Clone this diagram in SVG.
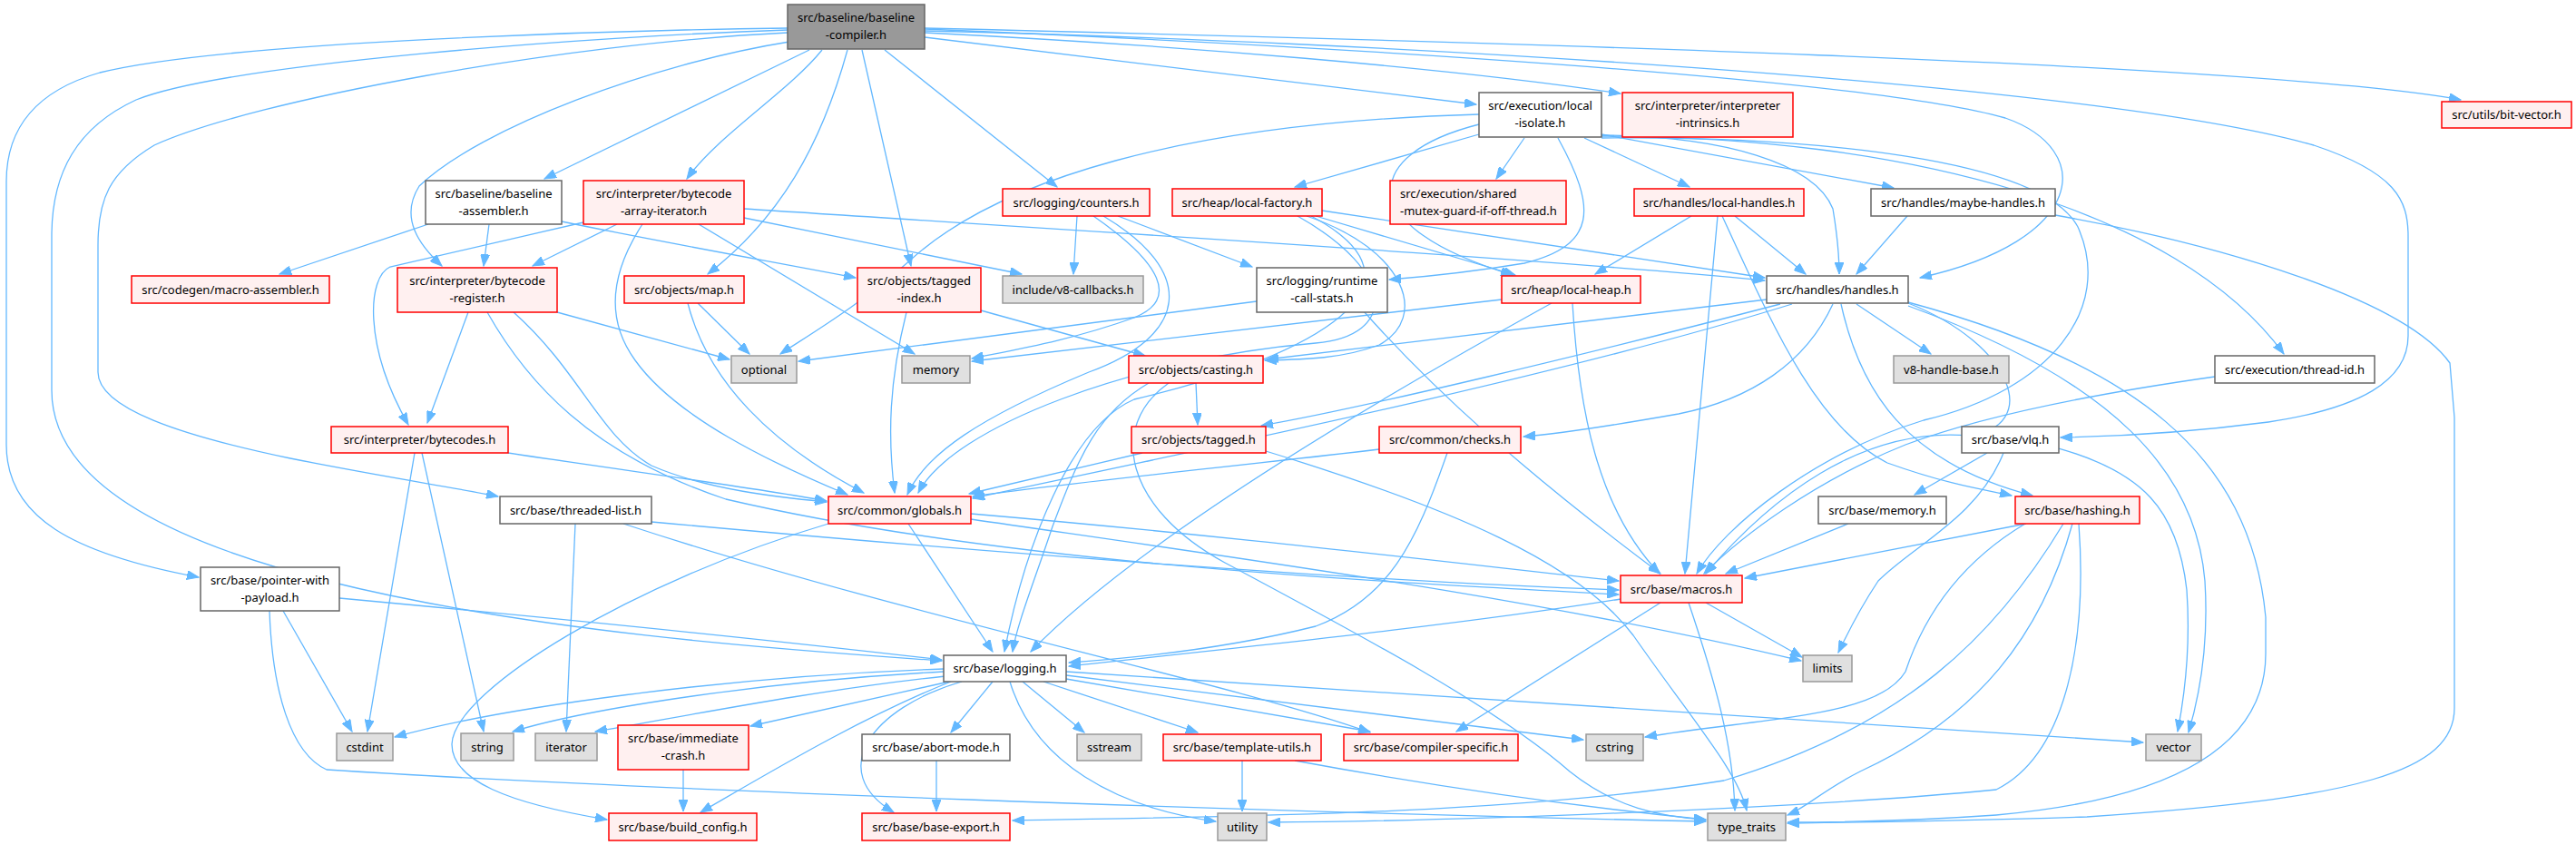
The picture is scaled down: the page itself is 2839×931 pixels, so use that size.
<svg xmlns="http://www.w3.org/2000/svg" width="2839" height="931" viewBox="0 0 2839 931">
<style>
rect{stroke-width:1.5}
.w rect{fill:#fff;stroke:#666}
.r rect{fill:#fff0f0;stroke:#f00}
.g rect{fill:#e0e0e0;stroke:#999}
.k rect{fill:#999;stroke:#666}
text{font-family:"Noto Sans","DejaVu Sans",sans-serif;font-size:13px;fill:#000;text-anchor:middle}
#edges path{fill:none;stroke:#63b8ff;stroke-width:1.3;marker-end:url(#a)}
</style>
<defs>
<marker id="a" markerWidth="14" markerHeight="10" refX="13" refY="5" orient="auto" markerUnits="userSpaceOnUse"><path d="M0,0 L13,5 L0,10 z" fill="#63b8ff" stroke="#63b8ff"/></marker>
</defs>
<rect width="2839" height="931" fill="#fff"/>
<g id="edges">
<path d="M868,31 C700,33 250,45 110,80 C40,100 7,140 7,200 L7,490 C7,570 80,610 219,636"/>
<path d="M868,33 C650,40 250,70 150,110 C85,140 57,190 57,260 L57,430 C57,520 160,590 360,640 C600,700 900,718 1038,728"/>
<path d="M868,36 C620,48 280,110 170,160 C120,190 108,220 108,270 L108,410 C108,450 200,480 320,505 C420,525 500,537 549,547"/>
<path d="M870,46 C720,70 530,140 462,205 C440,240 462,270 487,293"/>
<path d="M892,55 L600,197"/>
<path d="M906,55 C870,100 790,150 757,197"/>
<path d="M934,55 C905,160 860,240 780,302"/>
<path d="M950,55 L1004,293"/>
<path d="M975,55 L1165,206"/>
<path d="M1019,41 L1627,115"/>
<path d="M1019,36 C1300,50 1600,75 1786,103"/>
<path d="M1019,32 C1450,50 2050,85 2210,130 C2310,165 2300,265 2116,306"/>
<path d="M1019,34 C1500,45 2300,90 2550,160 C2640,190 2654,220 2654,260 L2654,370 C2654,420 2600,450 2500,465 C2400,478 2330,481 2271,482"/>
<path d="M1019,31 C1600,45 2500,70 2712,110"/>
<path d="M472,247 L308,302"/>
<path d="M539,247 L533,293"/>
<path d="M619,244 C720,265 860,290 943,306"/>
<path d="M680,247 L587,293"/>
<path d="M643,245 L430,294 C405,305 400,380 450,468"/>
<path d="M708,247 C680,290 662,345 700,397 C745,460 850,510 934,545"/>
<path d="M820,230 C1200,255 1700,285 1945,309"/>
<path d="M820,240 L1126,302"/>
<path d="M770,247 L1008,390"/>
<path d="M1187,238 L1183,302"/>
<path d="M1232,238 L1380,294"/>
<path d="M1205,238 C1280,290 1300,330 1250,350 C1180,375 1120,385 1071,395"/>
<path d="M1216,238 C1320,300 1310,370 1200,410 C1080,460 1020,500 1000,545"/>
<path d="M1457,232 L1945,306"/>
<path d="M1450,238 L1670,303"/>
<path d="M1440,238 C1550,275 1575,350 1520,380 C1480,395 1440,396 1394,397"/>
<path d="M1430,238 C1540,300 1540,370 1450,378 C1250,395 1050,470 1012,543"/>
<path d="M1445,238 C1600,320 1420,400 1250,440 C1180,470 1130,600 1107,718"/>
<path d="M1710,334 C1500,450 1250,600 1136,718"/>
<path d="M1733,334 C1740,450 1760,560 1829,632"/>
<path d="M1655,330 L1071,398"/>
<path d="M1385,332 L880,398"/>
<path d="M1503,343 C1580,430 1680,520 1830,632"/>
<path d="M1630,126 C1300,135 1100,200 1005,285 C950,335 890,370 860,390"/>
<path d="M1630,148 L1427,206"/>
<path d="M1680,152 L1649,197"/>
<path d="M1746,152 L1862,206"/>
<path d="M1765,148 L2087,207"/>
<path d="M1717,152 C1760,230 1760,270 1680,290 C1620,300 1570,305 1531,308"/>
<path d="M1630,137 C1500,170 1490,250 1667,303"/>
<path d="M1765,149 C1900,150 2000,180 2020,230 C2025,260 2027,280 2027,302"/>
<path d="M1765,150 C2100,150 2400,230 2517,390"/>
<path d="M1765,152 C2000,150 2250,175 2290,250 C2330,340 2260,430 2120,463 C2000,500 1900,580 1870,632"/>
<path d="M1912,238 L1990,302"/>
<path d="M1864,238 L1758,302"/>
<path d="M1893,238 L1857,632"/>
<path d="M1898,238 C1950,350 2000,470 2080,510 C2150,535 2190,540 2217,546"/>
<path d="M2102,238 L2046,302"/>
<path d="M2265,237 C2450,270 2650,330 2700,400 L2705,460 L2705,780 C2705,850 2600,880 2300,900 C2150,905 2050,906 1970,907"/>
<path d="M2046,335 L2128,390"/>
<path d="M1947,330 L1396,396"/>
<path d="M1962,335 C1750,390 1500,450 1390,469"/>
<path d="M1975,335 C1700,420 1300,500 1072,549"/>
<path d="M2020,335 C1990,400 1930,440 1850,456 C1770,470 1720,478 1679,481"/>
<path d="M2029,335 C2050,430 2100,510 2240,546"/>
<path d="M2103,333 C2350,400 2480,500 2497,680 L2497,720 C2497,820 2400,880 2200,898 C2100,905 2020,906 1970,906"/>
<path d="M2103,337 C2330,420 2420,520 2430,640 C2435,720 2420,780 2412,807"/>
<path d="M2103,334 C2220,380 2250,470 2170,480 C2050,470 1950,550 1880,632"/>
<path d="M1318,422 L1320,468"/>
<path d="M1266,422 C1210,455 1190,500 1160,580 C1140,640 1120,690 1116,718"/>
<path d="M1288,422 C1220,470 1240,560 1350,620 C1500,700 1650,780 1730,850 C1780,890 1830,900 1880,903"/>
<path d="M1259,499 L1068,544"/>
<path d="M1395,497 C1600,560 1740,620 1800,700 C1870,800 1915,850 1925,893"/>
<path d="M1520,495 C1350,515 1150,535 1072,547"/>
<path d="M1595,499 C1560,600 1530,660 1450,690 C1350,715 1250,725 1178,730"/>
<path d="M2190,499 L2110,545"/>
<path d="M2208,499 C2180,570 2110,600 2070,640 C2050,670 2035,700 2026,719"/>
<path d="M2269,494 C2360,520 2400,560 2410,650 C2415,720 2405,780 2400,806"/>
<path d="M2037,577 L1902,632"/>
<path d="M2233,577 L1923,637"/>
<path d="M2232,577 C2160,620 2120,680 2100,740 C2070,790 1950,790 1813,812"/>
<path d="M2274,577 C2200,700 2100,800 1900,860 C1650,900 1300,900 1116,904"/>
<path d="M2284,577 C2250,700 2180,790 2050,850 C2010,870 1990,890 1970,898"/>
<path d="M2291,577 C2300,700 2280,830 2200,870 C2000,890 1600,905 1398,906"/>
<path d="M1001,577 L1094,718"/>
<path d="M1070,566 C1350,590 1600,620 1784,640"/>
<path d="M1070,572 C1400,620 1700,660 1985,728"/>
<path d="M913,577 C700,640 500,760 498,820 C498,860 560,885 669,903"/>
<path d="M634,577 L624,806"/>
<path d="M718,575 C1100,610 1500,640 1784,650"/>
<path d="M687,577 C1000,680 1350,750 1510,807"/>
<path d="M457,499 L405,806"/>
<path d="M465,499 L533,806"/>
<path d="M560,499 C700,520 850,540 911,552"/>
<path d="M516,344 L471,466"/>
<path d="M614,344 L804,396"/>
<path d="M566,344 C640,410 660,480 718,513 C780,540 860,548 911,553"/>
<path d="M537,344 C580,420 650,500 800,550 C1100,620 1500,640 1784,655"/>
<path d="M769,334 L826,390"/>
<path d="M758,334 C780,420 850,490 952,543"/>
<path d="M999,344 C980,420 978,480 986,543"/>
<path d="M1081,342 L1262,392"/>
<path d="M312,673 L388,806"/>
<path d="M374,659 C600,680 850,705 1038,727"/>
<path d="M297,673 C300,760 320,830 360,848 C700,870 1400,895 1880,905"/>
<path d="M1040,737 C800,745 550,780 435,812"/>
<path d="M1040,740 C850,750 650,780 565,806"/>
<path d="M1042,745 C900,760 750,790 656,806"/>
<path d="M1046,751 L827,800"/>
<path d="M1048,751 C950,790 850,850 772,895"/>
<path d="M1060,751 C960,780 910,850 985,895"/>
<path d="M1094,751 L1048,807"/>
<path d="M1113,751 C1140,840 1230,890 1340,905"/>
<path d="M1127,751 L1195,807"/>
<path d="M1150,751 L1320,807"/>
<path d="M1175,748 L1510,806"/>
<path d="M1175,744 L1745,815"/>
<path d="M1175,740 L2362,818"/>
<path d="M1786,660 C1600,690 1350,715 1178,734"/>
<path d="M1880,664 L1986,724"/>
<path d="M1830,664 L1605,806"/>
<path d="M1861,664 C1890,750 1910,820 1912,893"/>
<path d="M753,848 L753,894"/>
<path d="M1032,838 L1032,894"/>
<path d="M1369,838 L1369,894"/>
<path d="M1427,838 C1600,870 1750,890 1880,903"/>
<path d="M2441,415 C2300,435 2180,460 2100,490 C2000,530 1920,590 1878,632"/>
</g>
<g id="root" class="k"><rect x="868" y="5" width="151" height="49"/><text x="943.5" y="24">src/baseline/baseline</text><text x="943.5" y="43">-compiler.h</text></g>
<g id="asm" class="w"><rect x="469" y="199" width="150" height="48"/><text x="544" y="218">src/baseline/baseline</text><text x="544" y="237">-assembler.h</text></g>
<g id="iter" class="r"><rect x="643" y="199" width="177" height="48"/><text x="731.5" y="218">src/interpreter/bytecode</text><text x="731.5" y="237">-array-iterator.h</text></g>
<g id="counters" class="r"><rect x="1105" y="208" width="162" height="30"/><text x="1186" y="227.5">src/logging/counters.h</text></g>
<g id="lfact" class="r"><rect x="1292" y="208" width="165" height="30"/><text x="1374.5" y="227.5">src/heap/local-factory.h</text></g>
<g id="iso" class="w"><rect x="1630" y="102" width="135" height="49"/><text x="1697.5" y="121">src/execution/local</text><text x="1697.5" y="140">-isolate.h</text></g>
<g id="intr" class="r"><rect x="1788" y="102" width="188" height="49"/><text x="1882" y="121">src/interpreter/interpreter</text><text x="1882" y="140">-intrinsics.h</text></g>
<g id="bitv" class="r"><rect x="2691" y="112" width="143" height="29"/><text x="2762.5" y="131">src/utils/bit-vector.h</text></g>
<g id="smg" class="r"><rect x="1532" y="199" width="194" height="48"/><text x="1543" y="218" style="text-anchor:start">src/execution/shared</text><text x="1543" y="237" style="text-anchor:start">-mutex-guard-if-off-thread.h</text></g>
<g id="lhand" class="r"><rect x="1801" y="208" width="187" height="30"/><text x="1894.5" y="227.5">src/handles/local-handles.h</text></g>
<g id="maybe" class="w"><rect x="2062" y="208" width="203" height="30"/><text x="2163.5" y="227.5">src/handles/maybe-handles.h</text></g>
<g id="masm" class="r"><rect x="145" y="304" width="218" height="30"/><text x="254" y="323.5">src/codegen/macro-assembler.h</text></g>
<g id="breg" class="r"><rect x="438" y="295" width="176" height="49"/><text x="526" y="314">src/interpreter/bytecode</text><text x="526" y="333">-register.h</text></g>
<g id="map" class="r"><rect x="688" y="304" width="132" height="30"/><text x="754" y="323.5">src/objects/map.h</text></g>
<g id="tidx" class="r"><rect x="945" y="295" width="136" height="49"/><text x="1013" y="314">src/objects/tagged</text><text x="1013" y="333">-index.h</text></g>
<g id="v8cb" class="g"><rect x="1105" y="304" width="155" height="30"/><text x="1182.5" y="323.5">include/v8-callbacks.h</text></g>
<g id="rcs" class="w"><rect x="1385" y="295" width="144" height="49"/><text x="1457" y="314">src/logging/runtime</text><text x="1457" y="333">-call-stats.h</text></g>
<g id="lheap" class="r"><rect x="1655" y="304" width="153" height="30"/><text x="1731.5" y="323.5">src/heap/local-heap.h</text></g>
<g id="handles" class="w"><rect x="1947" y="304" width="156" height="30"/><text x="2025" y="323.5">src/handles/handles.h</text></g>
<g id="opt" class="g"><rect x="806" y="392" width="72" height="30"/><text x="842" y="411.5">optional</text></g>
<g id="mem" class="g"><rect x="994" y="392" width="75" height="30"/><text x="1031.5" y="411.5">memory</text></g>
<g id="cast" class="r"><rect x="1244" y="392" width="148" height="30"/><text x="1318" y="411.5">src/objects/casting.h</text></g>
<g id="v8hb" class="g"><rect x="2087" y="392" width="127" height="30"/><text x="2150.5" y="411.5">v8-handle-base.h</text></g>
<g id="tid" class="w"><rect x="2441" y="392" width="176" height="30"/><text x="2529" y="411.5">src/execution/thread-id.h</text></g>
<g id="bcs" class="r"><rect x="365" y="470" width="195" height="29"/><text x="462.5" y="489">src/interpreter/bytecodes.h</text></g>
<g id="tagged" class="r"><rect x="1247" y="470" width="148" height="29"/><text x="1321" y="489">src/objects/tagged.h</text></g>
<g id="checks" class="r"><rect x="1520" y="470" width="156" height="29"/><text x="1598" y="489">src/common/checks.h</text></g>
<g id="vlq" class="w"><rect x="2162" y="470" width="107" height="29"/><text x="2215.5" y="489">src/base/vlq.h</text></g>
<g id="tlist" class="w"><rect x="551" y="547" width="167" height="30"/><text x="634.5" y="566.5">src/base/threaded-list.h</text></g>
<g id="glob" class="r"><rect x="913" y="547" width="157" height="30"/><text x="991.5" y="566.5">src/common/globals.h</text></g>
<g id="bmem" class="w"><rect x="2004" y="547" width="141" height="30"/><text x="2074.5" y="566.5">src/base/memory.h</text></g>
<g id="hash" class="r"><rect x="2221" y="547" width="137" height="30"/><text x="2289.5" y="566.5">src/base/hashing.h</text></g>
<g id="pwp" class="w"><rect x="221" y="625" width="153" height="48"/><text x="297.5" y="644">src/base/pointer-with</text><text x="297.5" y="663">-payload.h</text></g>
<g id="macros" class="r"><rect x="1786" y="634" width="134" height="30"/><text x="1853" y="653.5">src/base/macros.h</text></g>
<g id="log" class="w"><rect x="1040" y="722" width="135" height="29"/><text x="1107.5" y="741">src/base/logging.h</text></g>
<g id="limits" class="g"><rect x="1987" y="722" width="54" height="29"/><text x="2014" y="741">limits</text></g>
<g id="cstdint" class="g"><rect x="371" y="808" width="62" height="30"/><text x="402" y="827.5">cstdint</text></g>
<g id="string" class="g"><rect x="508" y="808" width="58" height="30"/><text x="537" y="827.5">string</text></g>
<g id="iterator" class="g"><rect x="590" y="808" width="68" height="30"/><text x="624" y="827.5">iterator</text></g>
<g id="icrash" class="r"><rect x="681" y="799" width="144" height="49"/><text x="753" y="818">src/base/immediate</text><text x="753" y="837">-crash.h</text></g>
<g id="abort" class="w"><rect x="950" y="809" width="163" height="29"/><text x="1031.5" y="828">src/base/abort-mode.h</text></g>
<g id="sstream" class="g"><rect x="1187" y="809" width="71" height="29"/><text x="1222.5" y="828">sstream</text></g>
<g id="tutils" class="r"><rect x="1282" y="809" width="174" height="29"/><text x="1369" y="828">src/base/template-utils.h</text></g>
<g id="cspec" class="r"><rect x="1481" y="809" width="192" height="29"/><text x="1577" y="828">src/base/compiler-specific.h</text></g>
<g id="cstring" class="g"><rect x="1748" y="809" width="63" height="29"/><text x="1779.5" y="828">cstring</text></g>
<g id="vector" class="g"><rect x="2365" y="809" width="61" height="29"/><text x="2395.5" y="828">vector</text></g>
<g id="bconf" class="r"><rect x="671" y="896" width="163" height="30"/><text x="752.5" y="915.5">src/base/build_config.h</text></g>
<g id="bexp" class="r"><rect x="950" y="896" width="163" height="30"/><text x="1031.5" y="915.5">src/base/base-export.h</text></g>
<g id="util" class="g"><rect x="1342" y="896" width="54" height="30"/><text x="1369" y="915.5">utility</text></g>
<g id="tt" class="g"><rect x="1882" y="896" width="86" height="30"/><text x="1925" y="915.5">type_traits</text></g>
</svg>
